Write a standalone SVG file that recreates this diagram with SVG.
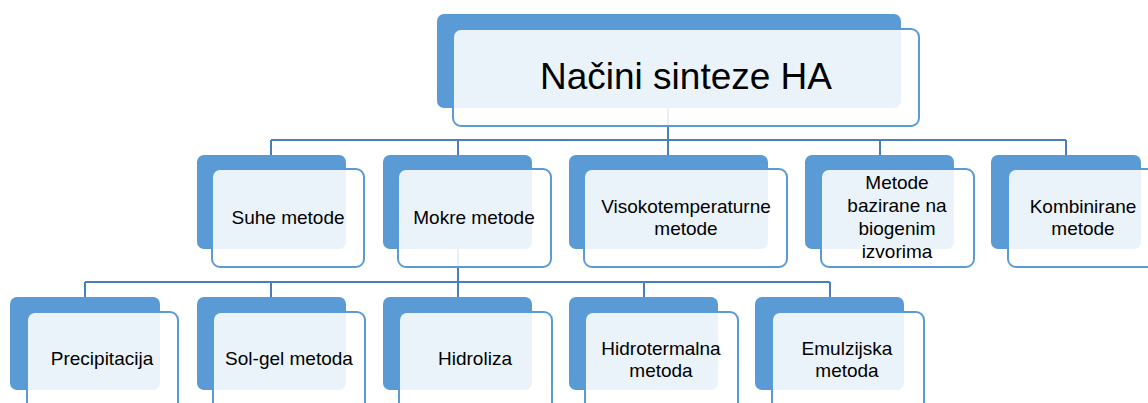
<svg xmlns="http://www.w3.org/2000/svg" width="1148" height="403" viewBox="0 0 1148 403">
<style>
.back{fill:#5b9bd5;}
.front{fill:#ffffff;fill-opacity:0.88;stroke:#5b9bd5;stroke-width:2;}
.conn{fill:none;stroke:#4a7ebb;stroke-width:2;}
text{font-family:"Liberation Sans",Arial,sans-serif;fill:#000;text-anchor:middle;}
.t1{font-size:19px;}
.t0{font-size:37px;}
</style>
<rect width="1148" height="403" fill="#ffffff"/>
<g id="connectors">
<path class="conn" d="M668,108 V140 M271,140 H1066 M271,140 V155 M458,140 V155 M668,140 V155 M880,140 V155 M1066,140 V155"/>
<path class="conn" d="M458,249 V297 M85,282 H830 M85,282 V297 M271,282 V297 M644,282 V297 M830,282 V297"/>
</g>
<g id="root">
<rect class="back" x="437" y="14" width="464" height="94" rx="7"/>
<rect class="front" x="453" y="29" width="466" height="97" rx="8"/>
<text class="t0" x="686" y="89">Načini sinteze HA</text>
</g>
<g id="suhe">
<rect class="back" x="197" y="155" width="149" height="94" rx="7"/>
<rect class="front" x="212" y="169" width="152" height="98" rx="8"/>
<text class="t1" x="288" y="224">Suhe metode</text>
</g>
<g id="mokre">
<rect class="back" x="383" y="155" width="149" height="94" rx="7"/>
<rect class="front" x="398" y="169" width="153" height="98" rx="8"/>
<text class="t1" x="474" y="224">Mokre metode</text>
</g>
<g id="viso">
<rect class="back" x="569" y="155" width="199" height="94" rx="7"/>
<rect class="front" x="584" y="169" width="203" height="98" rx="8"/>
<text class="t1" x="686" y="213">Visokotemperaturne</text>
<text class="t1" x="686" y="235">metode</text>
</g>
<g id="biogeni">
<rect class="back" x="805" y="155" width="149" height="94" rx="7"/>
<rect class="front" x="821" y="169" width="153" height="98" rx="8"/>
<text class="t1" x="897" y="189">Metode</text>
<text class="t1" x="897" y="212">bazirane na</text>
<text class="t1" x="897" y="235">biogenim</text>
<text class="t1" x="897" y="258">izvorima</text>
</g>
<g id="kombinirane">
<rect class="back" x="991" y="155" width="150" height="94" rx="7"/>
<rect class="front" x="1008" y="169" width="153" height="98" rx="8"/>
<text class="t1" x="1083" y="213">Kombinirane</text>
<text class="t1" x="1083" y="235">metode</text>
</g>
<g id="precipitacija">
<rect class="back" x="10" y="297" width="150" height="93" rx="7"/>
<rect class="front" x="27" y="312" width="151" height="98" rx="8"/>
<text class="t1" x="102" y="365">Precipitacija</text>
</g>
<g id="solgel">
<rect class="back" x="197" y="297" width="149" height="93" rx="7"/>
<rect class="front" x="213" y="312" width="152" height="98" rx="8"/>
<text class="t1" x="289" y="365">Sol-gel metoda</text>
</g>
<g id="hidroliza">
<rect class="back" x="383" y="297" width="149" height="93" rx="7"/>
<rect class="front" x="399" y="312" width="153" height="98" rx="8"/>
<text class="t1" x="475" y="365">Hidroliza</text>
</g>
<g id="hidrotermalna">
<rect class="back" x="569" y="297" width="149" height="93" rx="7"/>
<rect class="front" x="585" y="312" width="153" height="98" rx="8"/>
<text class="t1" x="661" y="355">Hidrotermalna</text>
<text class="t1" x="661" y="377">metoda</text>
</g>
<g id="emulzijska">
<rect class="back" x="755" y="297" width="149" height="93" rx="7"/>
<rect class="front" x="772" y="312" width="152" height="98" rx="8"/>
<text class="t1" x="847" y="355">Emulzijska</text>
<text class="t1" x="847" y="377">metoda</text>
</g>
</svg>
